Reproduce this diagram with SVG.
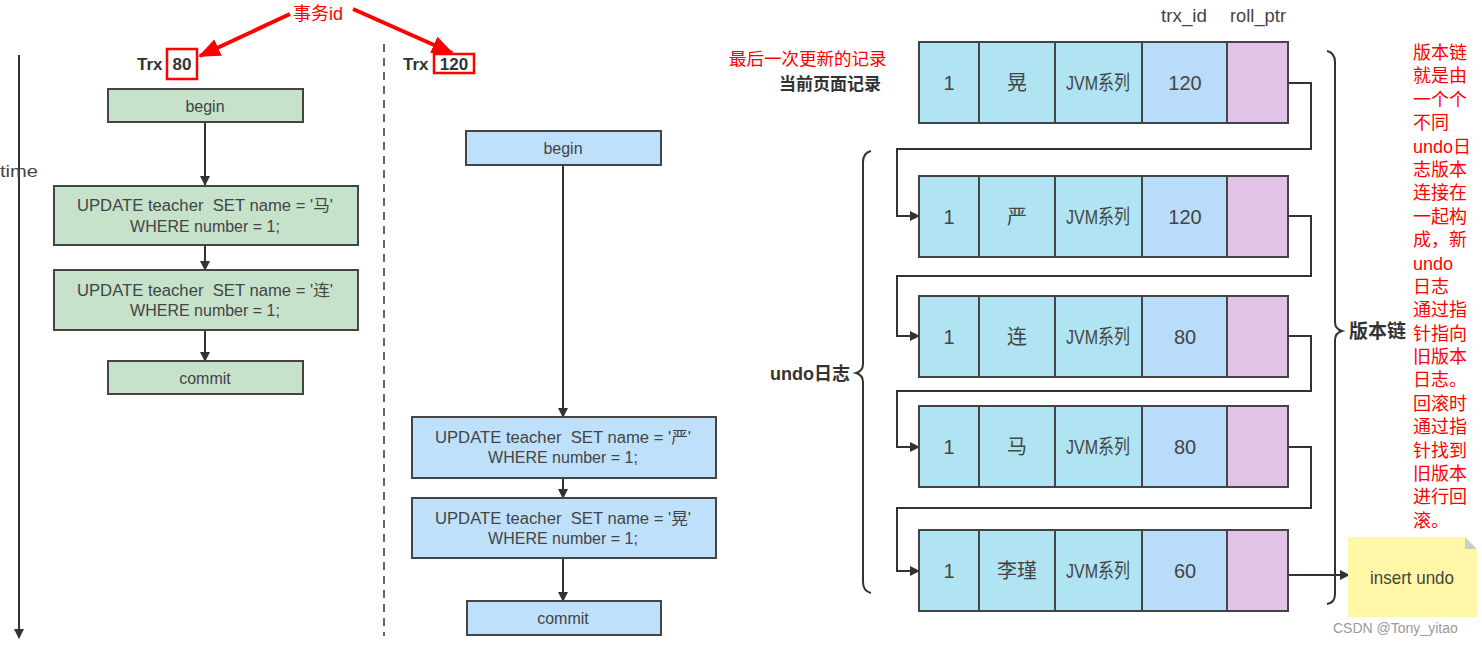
<svg xmlns="http://www.w3.org/2000/svg" width="1482" height="645" viewBox="0 0 1482 645">
<defs>
<style>
.t{font-family:"Liberation Sans","Noto Sans CJK SC",sans-serif;fill:#444;white-space:pre;}
.g{fill:#c6e2cb;stroke:#444;stroke-width:2;}
.b{fill:#bfe0fb;stroke:#444;stroke-width:2;}
.c1{fill:#b0e4f2;stroke:#444;stroke-width:2;}
.c2{fill:#b8dcfa;stroke:#444;stroke-width:2;}
.c3{fill:#e2c3e8;stroke:#444;stroke-width:2;}
.ln{fill:none;stroke:#333;stroke-width:2;}
.red{font-family:"Liberation Sans","Noto Sans CJK SC",sans-serif;fill:#ff0000;}
.cell{font-family:"Liberation Sans","Noto Sans CJK SC",sans-serif;fill:#444;font-size:20px;text-anchor:middle;}
.bold{font-family:"Liberation Sans","Noto Sans CJK SC",sans-serif;fill:#333;font-weight:bold;}
</style>
<marker id="ah" markerWidth="10" markerHeight="10" refX="9" refY="5" orient="auto" markerUnits="userSpaceOnUse"><path d="M0,0 L10,5 L0,10 z" fill="#333"/></marker>
<marker id="rah" markerWidth="22" markerHeight="18" refX="20" refY="9" orient="auto" markerUnits="userSpaceOnUse"><path d="M0,0 L22,9 L0,18 z" fill="#ff0000"/></marker>
</defs>

<g id="time-axis">
<line x1="19" y1="55" x2="19" y2="638" class="ln" marker-end="url(#ah)"/>
<text x="0" y="177" class="t" font-size="17" textLength="38" lengthAdjust="spacingAndGlyphs">time</text>
</g>
<line x1="384" y1="44" x2="384" y2="636" stroke="#666" stroke-width="2" stroke-dasharray="8,6"/>

<g id="label-trx80">
<text x="137" y="70" class="bold" font-size="17">Trx</text>
<rect x="167" y="49" width="30" height="30" fill="none" stroke="#ff0000" stroke-width="2.5"/>
<text x="182" y="70" class="bold" font-size="17" text-anchor="middle">80</text>
</g>
<g id="label-trx120">
<text x="403" y="70" class="bold" font-size="17">Trx</text>
<rect x="434" y="54" width="40" height="19" fill="none" stroke="#ff0000" stroke-width="2.5"/>
<text x="454" y="70" class="bold" font-size="17" text-anchor="middle">120</text>
</g>
<g id="label-trxid">
<text x="318" y="20" class="red" font-size="18" text-anchor="middle">事务id</text>
</g>

<g id="connectors">
<line x1="290" y1="14" x2="200" y2="56" stroke="#ff0000" stroke-width="4" marker-end="url(#rah)"/>
<line x1="353" y1="9" x2="452" y2="53" stroke="#ff0000" stroke-width="4" marker-end="url(#rah)"/>
<line x1="205" y1="122" x2="205" y2="185" class="ln" marker-end="url(#ah)"/>
<line x1="205" y1="246" x2="205" y2="270" class="ln" marker-end="url(#ah)"/>
<line x1="205" y1="331" x2="205" y2="361" class="ln" marker-end="url(#ah)"/>
<line x1="563" y1="165" x2="563" y2="417" class="ln" marker-end="url(#ah)"/>
<line x1="563" y1="478" x2="563" y2="498" class="ln" marker-end="url(#ah)"/>
<line x1="563" y1="558" x2="563" y2="601" class="ln" marker-end="url(#ah)"/>
<polyline points="1288,83 1311,83 1311,149 897,149 897,216 919,216" class="ln" marker-end="url(#ah)"/>
<polyline points="1288,216 1311,216 1311,276 897,276 897,336 919,336" class="ln" marker-end="url(#ah)"/>
<polyline points="1288,336 1311,336 1311,391 897,391 897,447 919,447" class="ln" marker-end="url(#ah)"/>
<polyline points="1288,447 1311,447 1311,508 897,508 897,571 919,571" class="ln" marker-end="url(#ah)"/>
<line x1="1288" y1="575" x2="1349" y2="575" class="ln" marker-end="url(#ah)"/>
</g>

<g id="g-begin"><rect x="108" y="89" width="195" height="33" class="g"/><text x="205" y="112" class="t" font-size="16" text-anchor="middle">begin</text></g>
<g id="g-update1"><rect x="54" y="186" width="304" height="59" class="g"/><text x="205" y="211" class="t" font-size="16" text-anchor="middle" textLength="256" lengthAdjust="spacingAndGlyphs">UPDATE teacher  SET name = '马'</text><text x="205" y="232" class="t" font-size="16" text-anchor="middle">WHERE number = 1;</text></g>
<g id="g-update2"><rect x="54" y="270" width="304" height="60" class="g"/><text x="205" y="296" class="t" font-size="16" text-anchor="middle" textLength="256" lengthAdjust="spacingAndGlyphs">UPDATE teacher  SET name = '连'</text><text x="205" y="316" class="t" font-size="16" text-anchor="middle">WHERE number = 1;</text></g>
<g id="g-commit"><rect x="108" y="361" width="195" height="33" class="g"/><text x="205" y="384" class="t" font-size="16" text-anchor="middle">commit</text></g>

<g id="b-begin"><rect x="466" y="131" width="195" height="34" class="b"/><text x="563" y="154" class="t" font-size="16" text-anchor="middle">begin</text></g>
<g id="b-update1"><rect x="412" y="417" width="304" height="61" class="b"/><text x="563" y="443" class="t" font-size="16" text-anchor="middle" textLength="256" lengthAdjust="spacingAndGlyphs">UPDATE teacher  SET name = '严'</text><text x="563" y="463" class="t" font-size="16" text-anchor="middle">WHERE number = 1;</text></g>
<g id="b-update2"><rect x="412" y="498" width="304" height="60" class="b"/><text x="563" y="524" class="t" font-size="16" text-anchor="middle" textLength="256" lengthAdjust="spacingAndGlyphs">UPDATE teacher  SET name = '晃'</text><text x="563" y="544" class="t" font-size="16" text-anchor="middle">WHERE number = 1;</text></g>
<g id="b-commit"><rect x="467" y="601" width="194" height="34" class="b"/><text x="563" y="624" class="t" font-size="16" text-anchor="middle">commit</text></g>

<g id="headers">
<text x="1184" y="22" class="t" font-size="19" text-anchor="middle" fill="#333" textLength="46" lengthAdjust="spacingAndGlyphs">trx_id</text>
<text x="1258" y="22" class="t" font-size="19" text-anchor="middle" fill="#333" textLength="56" lengthAdjust="spacingAndGlyphs">roll_ptr</text>
</g>
<g id="label-current">
<text x="729" y="65" class="red" font-size="17.5">最后一次更新的记录</text>
<text x="881" y="90" class="bold" font-size="17" text-anchor="end">当前页面记录</text>
</g>

<g id="row0">
<rect x="919" y="42" width="60" height="81" class="c1"/><rect x="979" y="42" width="76" height="81" class="c1"/><rect x="1055" y="42" width="87" height="81" class="c1"/><rect x="1142" y="42" width="85" height="81" class="c2"/><rect x="1227" y="42" width="61" height="81" class="c3"/>
<text x="949" y="90" class="cell">1</text><text x="1017" y="90" class="cell">晃</text><text x="1098" y="90" class="cell" textLength="64" lengthAdjust="spacingAndGlyphs">JVM系列</text><text x="1185" y="90" class="cell">120</text>
</g>
<g id="row1">
<rect x="919" y="176" width="60" height="81" class="c1"/><rect x="979" y="176" width="76" height="81" class="c1"/><rect x="1055" y="176" width="87" height="81" class="c1"/><rect x="1142" y="176" width="85" height="81" class="c2"/><rect x="1227" y="176" width="61" height="81" class="c3"/>
<text x="949" y="224" class="cell">1</text><text x="1017" y="224" class="cell">严</text><text x="1098" y="224" class="cell" textLength="64" lengthAdjust="spacingAndGlyphs">JVM系列</text><text x="1185" y="224" class="cell">120</text>
</g>
<g id="row2">
<rect x="919" y="296" width="60" height="81" class="c1"/><rect x="979" y="296" width="76" height="81" class="c1"/><rect x="1055" y="296" width="87" height="81" class="c1"/><rect x="1142" y="296" width="85" height="81" class="c2"/><rect x="1227" y="296" width="61" height="81" class="c3"/>
<text x="949" y="344" class="cell">1</text><text x="1017" y="344" class="cell">连</text><text x="1098" y="344" class="cell" textLength="64" lengthAdjust="spacingAndGlyphs">JVM系列</text><text x="1185" y="344" class="cell">80</text>
</g>
<g id="row3">
<rect x="919" y="406" width="60" height="81" class="c1"/><rect x="979" y="406" width="76" height="81" class="c1"/><rect x="1055" y="406" width="87" height="81" class="c1"/><rect x="1142" y="406" width="85" height="81" class="c2"/><rect x="1227" y="406" width="61" height="81" class="c3"/>
<text x="949" y="454" class="cell">1</text><text x="1017" y="454" class="cell">马</text><text x="1098" y="454" class="cell" textLength="64" lengthAdjust="spacingAndGlyphs">JVM系列</text><text x="1185" y="454" class="cell">80</text>
</g>
<g id="row4">
<rect x="919" y="530" width="60" height="81" class="c1"/><rect x="979" y="530" width="76" height="81" class="c1"/><rect x="1055" y="530" width="87" height="81" class="c1"/><rect x="1142" y="530" width="85" height="81" class="c2"/><rect x="1227" y="530" width="61" height="81" class="c3"/>
<text x="949" y="578" class="cell">1</text><text x="1017" y="578" class="cell">李瑾</text><text x="1098" y="578" class="cell" textLength="64" lengthAdjust="spacingAndGlyphs">JVM系列</text><text x="1185" y="578" class="cell">60</text>
</g>

<g id="undo-brace">
<path d="M871,151 Q863,153 863,162 L863,364 Q863,371 856,373 Q863,375 863,382 L863,582 Q863,591 871,593" class="ln"/>
<text x="850" y="380" class="bold" font-size="18" text-anchor="end">undo日志</text>
</g>
<g id="chain-brace">
<path d="M1327,51 Q1335,53 1335,62 L1335,322 Q1335,329 1342,331 Q1335,333 1335,340 L1335,594 Q1335,603 1327,604" class="ln"/>
<text x="1349" y="338" class="bold" font-size="19">版本链</text>
</g>

<g id="insert-undo">
<path d="M1348,537 L1465,537 L1477,549 L1477,617 L1348,617 z" fill="#fff7a8"/>
<path d="M1465,537 L1477,549 L1465,549 z" fill="#cccccc"/>
<text x="1412" y="584" class="t" font-size="19" text-anchor="middle" fill="#333" textLength="84" lengthAdjust="spacingAndGlyphs">insert undo</text>
</g>

<g id="note">
<text class="red" font-size="18" x="1413">
<tspan x="1413" y="59">版本链</tspan>
<tspan x="1413" y="82">就是由</tspan>
<tspan x="1413" y="106">一个个</tspan>
<tspan x="1413" y="129">不同</tspan>
<tspan x="1413" y="153">undo日</tspan>
<tspan x="1413" y="176">志版本</tspan>
<tspan x="1413" y="199">连接在</tspan>
<tspan x="1413" y="223">一起构</tspan>
<tspan x="1413" y="246">成，新</tspan>
<tspan x="1413" y="270">undo</tspan>
<tspan x="1413" y="293">日志</tspan>
<tspan x="1413" y="316">通过指</tspan>
<tspan x="1413" y="340">针指向</tspan>
<tspan x="1413" y="363">旧版本</tspan>
<tspan x="1413" y="386">日志。</tspan>
<tspan x="1413" y="410">回滚时</tspan>
<tspan x="1413" y="433">通过指</tspan>
<tspan x="1413" y="457">针找到</tspan>
<tspan x="1413" y="480">旧版本</tspan>
<tspan x="1413" y="503">进行回</tspan>
<tspan x="1413" y="527">滚。</tspan>
</text>
</g>
<text x="1333" y="633" font-family="Liberation Sans, sans-serif" font-size="14" fill="#999">CSDN @Tony_yitao</text>
</svg>
